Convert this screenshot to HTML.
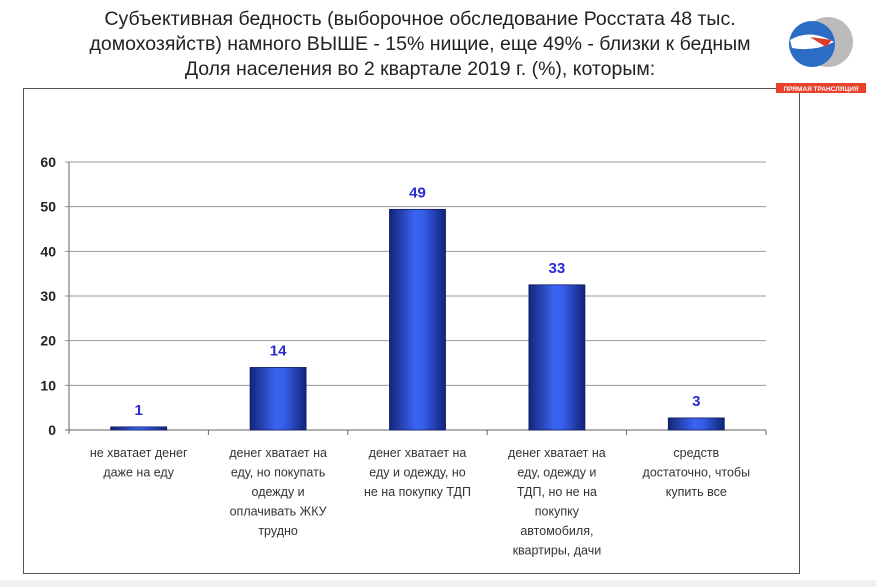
<!DOCTYPE html>
<html><head><meta charset="utf-8"><style>
body{margin:0;width:876px;height:587px;background:#fff;overflow:hidden;font-family:"Liberation Sans",sans-serif;position:relative}
#title{position:absolute;left:0;width:840px;top:7px;text-align:center;font-size:19.5px;line-height:25px;color:#222}
#box{position:absolute;left:23px;top:88px;width:775px;height:484px;border:1.5px solid #555}
#strip{position:absolute;left:0;top:580px;width:876px;height:7px;background:#f1f1f1}
</style></head><body>
<div id="title">Субъективная бедность (выборочное обследование Росстата 48 тыс.<br>домохозяйств) намного ВЫШЕ - 15% нищие, еще 49% - близки к бедным<br>Доля населения во 2 квартале 2019 г. (%), которым:</div>
<div id="box"></div>
<div id="strip"></div>
<svg id="logo" style="position:absolute;left:776px;top:10px" width="100" height="86">
<circle cx="52" cy="32" r="25" fill="#bbb"/><circle cx="36" cy="34" r="23" fill="#2b6cc4"/>
<path d="M14 30 Q34 18 58 32 Q38 42 16 38Z" fill="#fff"/><path d="M34 27 L56 30 L50 37 Z" fill="#e03a2a"/>
<rect x="0" y="73" width="90" height="10" fill="#e8412c"/>
<text x="45" y="81" font-size="6.5" fill="#fff" text-anchor="middle" font-family="Liberation Sans,sans-serif" font-weight="bold">ПРЯМАЯ ТРАНСЛЯЦИЯ</text>
</svg>
<svg id="chart" style="position:absolute;left:0;top:0" width="876" height="587"></svg>
<script>
const categories=[["не хватает денег","даже на еду"],["денег хватает на","еду, но покупать","одежду и","оплачивать ЖКУ","трудно"],["денег хватает на","еду и одежду, но","не на покупку ТДП"],["денег хватает на","еду, одежду и","ТДП, но не на","покупку","автомобиля,","квартиры, дачи"],["средств","достаточно, чтобы","купить все"]];
const values=[0.7,14,49.4,32.5,2.7];
const valueLabels=["1","14","49","33","3"];
const yTicks=[0,10,20,30,40,50,60];
const NS="http://www.w3.org/2000/svg";
const svg=document.getElementById('chart');
const X0=69,X1=766,Y0=430,Y60=162;
const y=v=>Y0-(v/60)*(Y0-Y60);
const bw=(X1-X0)/categories.length;
const xc=i=>X0+bw*(i+0.5);
function mk(t,a,p){const e=document.createElementNS(NS,t);for(const k in a)e.setAttribute(k,a[k]);(p||svg).appendChild(e);return e;}
const defs=mk('defs',{});
const g=mk('linearGradient',{id:'bg',x1:0,x2:1,y1:0,y2:0},defs);
mk('stop',{offset:'0','stop-color':'#14257a'},g);mk('stop',{offset:'0.45','stop-color':'#3a63f0'},g);mk('stop',{offset:'0.6','stop-color':'#3560ec'},g);mk('stop',{offset:'1','stop-color':'#12237a'},g);
yTicks.forEach(t=>{
 const gl=mk('line',{x1:X0-4,x2:X1,y1:y(t),y2:y(t),stroke:t===0?'#666':'#999','stroke-width':1});
 
 const tx=mk('text',{x:56,y:y(t)+5,'text-anchor':'end','font-size':14,'font-weight':'bold',fill:'#222'});tx.textContent=t;
 
});
const ax=mk('line',{x1:X0,x2:X0,y1:Y60,y2:Y0+4,stroke:'#666'});

for(let i=1;i<=categories.length;i++){const tk=mk('line',{x1:X0+bw*i,x2:X0+bw*i,y1:Y0,y2:Y0+5,stroke:'#666'});}
values.forEach((v,i)=>{
 const b=mk('rect',{x:xc(i)-28,y:y(v),width:56,height:Y0-y(v),fill:'url(#bg)',stroke:'#0d1a5a','stroke-width':0.8});
 
 const l=mk('text',{x:xc(i),y:y(v)-12,'text-anchor':'middle','font-size':15,'font-weight':'bold',fill:'#2a2ad0'});l.textContent=valueLabels[i];
 
 categories[i].forEach((s,j)=>{const c=mk('text',{x:xc(i),y:457+j*19.5,'text-anchor':'middle','font-size':12.5,fill:'#333'});c.textContent=s;
 });
});
</script>
</body></html>
